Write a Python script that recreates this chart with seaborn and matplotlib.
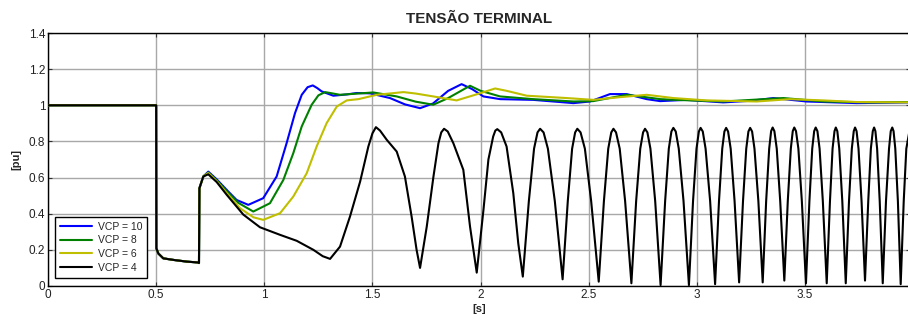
import numpy as np
import pandas as pd
import matplotlib
matplotlib.use("Agg")
import matplotlib.pyplot as plt
import seaborn as sns

# ---------------- data ----------------
# common pre-fault / fault part shared by all curves
t_fault = [0.0, 0.5, 0.501, 0.51, 0.533, 0.582, 0.641, 0.695, 0.698, 0.700, 0.718]
v_fault = [1.0, 1.0, 0.209, 0.18, 0.153, 0.144, 0.135, 0.130, 0.127, 0.541, 0.606]

t_vcp10 = [0.741, 0.78, 0.826, 0.872, 0.926, 0.995, 1.057, 1.103, 1.142, 1.173, 1.200, 1.224,
           1.245, 1.265, 1.319, 1.381, 1.427, 1.489, 1.581, 1.65, 1.72, 1.78, 1.85, 1.912, 1.96,
           2.013, 2.09, 2.243, 2.429, 2.506, 2.598, 2.675, 2.768, 2.83, 2.95, 3.122, 3.25,
           3.353, 3.507, 3.739, 3.985]
v_vcp10 = [0.633, 0.59, 0.532, 0.476, 0.449, 0.486, 0.606, 0.79, 0.957, 1.058, 1.10, 1.11,
           1.095, 1.077, 1.053, 1.06, 1.068, 1.066, 1.040, 1.005, 0.984, 1.01, 1.08, 1.117, 1.09,
           1.049, 1.034, 1.030, 1.012, 1.021, 1.062, 1.062, 1.034, 1.023, 1.03, 1.016, 1.025,
           1.04, 1.021, 1.012, 1.016]

t_vcp8 = [0.741, 0.78, 0.826, 0.88, 0.949, 1.026, 1.088, 1.134, 1.173, 1.219, 1.25, 1.281,
          1.35, 1.504, 1.612, 1.70, 1.781, 1.85, 1.951, 2.0, 2.09, 2.243, 2.429, 2.52, 2.675,
          2.737, 2.83, 2.9, 3.122, 3.40, 3.584, 3.8, 3.985]
v_vcp8 = [0.628, 0.585, 0.525, 0.46, 0.412, 0.458, 0.587, 0.735, 0.883, 1.003, 1.055, 1.073,
          1.058, 1.071, 1.049, 1.02, 1.003, 1.04, 1.108, 1.08, 1.049, 1.034, 1.021, 1.023, 1.058,
          1.049, 1.034, 1.03, 1.021, 1.04, 1.021, 1.016, 1.018]

t_vcp6 = [0.741, 0.78, 0.826, 0.888, 0.95, 0.995, 1.073, 1.134, 1.196, 1.242, 1.288, 1.335,
          1.381, 1.435, 1.52, 1.643, 1.70, 1.781, 1.889, 1.98, 2.067, 2.12, 2.213, 2.398,
          2.521, 2.644, 2.768, 2.891, 3.045, 3.276, 3.43, 3.584, 3.739, 3.985]
v_vcp6 = [0.625, 0.58, 0.515, 0.43, 0.38, 0.366, 0.403, 0.495, 0.624, 0.772, 0.901, 0.993,
          1.027, 1.034, 1.058, 1.073, 1.065, 1.049, 1.027, 1.06, 1.093, 1.08, 1.053, 1.04,
          1.030, 1.045, 1.058, 1.04, 1.027, 1.021, 1.034, 1.027, 1.018, 1.016]

t_vcp4 = [0.741, 0.78, 0.826, 0.903, 0.98, 1.073, 1.15, 1.227, 1.27, 1.304,
          1.35, 1.396, 1.443, 1.481, 1.50, 1.516, 1.535, 1.566, 1.612, 1.650, 1.681, 1.704, 1.72,
          1.751, 1.782, 1.805, 1.818, 1.831, 1.848, 1.874, 1.92, 1.951, 1.969, 1.982,
          2.013, 2.036, 2.058, 2.068, 2.077, 2.095, 2.12, 2.151, 2.174, 2.195,
          2.223, 2.247, 2.263, 2.275, 2.291, 2.311, 2.343, 2.379,
          2.403, 2.423, 2.437, 2.447, 2.462, 2.482, 2.511, 2.546,
          2.570, 2.590, 2.604, 2.614, 2.626, 2.643, 2.668, 2.697,
          2.719, 2.738, 2.751, 2.760, 2.771, 2.785, 2.807, 2.832,
          2.853, 2.870, 2.882, 2.891, 2.902, 2.916, 2.938, 2.963,
          2.982, 2.998, 3.009, 3.017, 3.027, 3.040, 3.061, 3.084,
          3.102, 3.117, 3.127, 3.135, 3.144, 3.156, 3.174, 3.195,
          3.213, 3.228, 3.238, 3.246, 3.255, 3.266, 3.284, 3.304,
          3.320, 3.334, 3.343, 3.350, 3.358, 3.369, 3.385, 3.404,
          3.420, 3.434, 3.443, 3.450, 3.458, 3.469, 3.485, 3.504,
          3.520, 3.533, 3.542, 3.549, 3.557, 3.567, 3.582, 3.600,
          3.615, 3.627, 3.636, 3.642, 3.649, 3.658, 3.672, 3.688,
          3.703, 3.716, 3.725, 3.731, 3.738, 3.747, 3.761, 3.777,
          3.792, 3.804, 3.813, 3.819, 3.825, 3.833, 3.845, 3.859,
          3.874, 3.888, 3.896, 3.903, 3.909, 3.917, 3.929, 3.942,
          3.956, 3.968, 3.985]
v_vcp4 = [0.618, 0.575, 0.505, 0.395, 0.325, 0.283, 0.25, 0.2, 0.165, 0.15,
          0.218, 0.384, 0.578, 0.772, 0.845, 0.879, 0.86, 0.809, 0.744, 0.606, 0.384, 0.2, 0.10,
          0.329, 0.606, 0.79, 0.85, 0.87, 0.855, 0.79, 0.643, 0.329, 0.18, 0.074,
          0.42, 0.70, 0.827, 0.86, 0.868, 0.85, 0.772, 0.514, 0.236, 0.052,
          0.47, 0.76, 0.85, 0.87, 0.85, 0.76, 0.47, 0.037,
          0.47, 0.76, 0.85, 0.87, 0.85, 0.76, 0.47, 0.024,
          0.47, 0.76, 0.85, 0.87, 0.85, 0.76, 0.47, 0.015,
          0.47, 0.76, 0.85, 0.87, 0.85, 0.76, 0.47, 0.005,
          0.47, 0.76, 0.855, 0.875, 0.855, 0.76, 0.47, 0.005,
          0.47, 0.76, 0.855, 0.875, 0.855, 0.76, 0.47, 0.01,
          0.47, 0.76, 0.855, 0.875, 0.855, 0.76, 0.47, 0.02,
          0.47, 0.76, 0.855, 0.875, 0.855, 0.76, 0.47, 0.02,
          0.47, 0.76, 0.857, 0.877, 0.857, 0.76, 0.47, 0.03,
          0.47, 0.76, 0.857, 0.877, 0.857, 0.76, 0.47, 0.015,
          0.47, 0.76, 0.857, 0.877, 0.857, 0.76, 0.47, 0.015,
          0.47, 0.76, 0.857, 0.877, 0.857, 0.76, 0.47, 0.015,
          0.47, 0.76, 0.857, 0.877, 0.857, 0.76, 0.47, 0.03,
          0.47, 0.76, 0.857, 0.877, 0.857, 0.76, 0.47, 0.015,
          0.47, 0.76, 0.857, 0.877, 0.857, 0.76, 0.47, 0.01,
          0.47, 0.76, 0.875]

series_labels = ["VCP = 10", "VCP = 8", "VCP = 6", "VCP = 4"]
series_colors = ["#0000ff", "#008000", "#bfbf00", "#000000"]

x_ticks = [0, 0.5, 1, 1.5, 2, 2.5, 3, 3.5]
x_ticklabels = ["0", "0.5", "1", "1.5", "2", "2.5", "3", "3.5"]
y_ticks = [0, 0.2, 0.4, 0.6, 0.8, 1.0, 1.2, 1.4]
y_ticklabels = ["0", "0.2", "0.4", "0.6", "0.8", "1", "1.2", "1.4"]

title_text = "TENSÃO TERMINAL"
xlabel_text = "[s]"
ylabel_text = "[pu]"

# ---------------- plotting ----------------
sns.set_style("ticks")
plt.rcParams["font.family"] = ["Liberation Sans", "DejaVu Sans"]

fig = plt.figure(figsize=(9.08, 3.2), dpi=100)
ax = fig.add_axes([48 / 908, 34 / 320, 862 / 908, 253 / 320])

all_t = [t_vcp10, t_vcp8, t_vcp6, t_vcp4]
all_v = [v_vcp10, v_vcp8, v_vcp6, v_vcp4]
for lab, col, tt, vv in zip(series_labels, series_colors, all_t, all_v):
    df = pd.DataFrame({"t": t_fault + tt, "v": v_fault + vv})
    sns.lineplot(data=df, x="t", y="v", ax=ax, color=col, label=lab,
                 estimator=None, sort=False, linewidth=1.5, zorder=3)

ax.set_xlim(0, 3.985)
ax.set_ylim(0, 1.4)
ax.set_xticks(x_ticks)
ax.set_xticklabels(x_ticklabels)
ax.set_yticks(y_ticks)
ax.set_yticklabels(y_ticklabels)
ax.grid(True, color="#a8a8a8", linewidth=1.0, linestyle="-", zorder=0)
ax.set_axisbelow(True)
ax.tick_params(direction="in", top=True, right=True, length=3, width=0.8,
               labelsize=8.5, pad=2, colors="#333333", labelcolor="#222222")
for s in ax.spines.values():
    s.set_color("black")
    s.set_linewidth(1.0)

ax.set_title(title_text, fontsize=11, fontweight="bold", pad=7)
ax.set_xlabel(xlabel_text, fontsize=8, fontweight="bold", labelpad=2)
ax.set_ylabel(ylabel_text, fontsize=8, fontweight="bold", labelpad=5)

leg = ax.legend(loc="lower left", bbox_to_anchor=(0.008, 0.032), borderaxespad=0,
                fontsize=7.5, frameon=True, fancybox=False, framealpha=1,
                edgecolor="black", handlelength=3.1, handletextpad=0.5,
                labelspacing=0.35, borderpad=0.5)
leg.get_frame().set_linewidth(1.0)

fig.savefig("out.png", dpi=100)
